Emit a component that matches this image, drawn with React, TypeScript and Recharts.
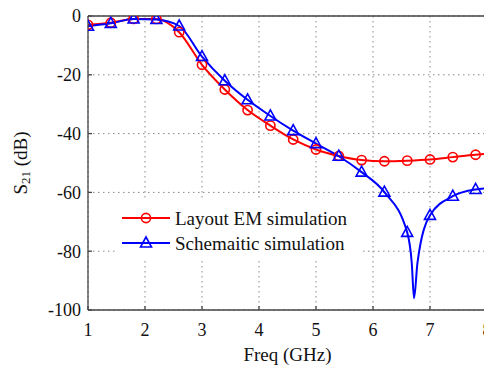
import React from 'react';
import {
  LineChart,
  Line,
  XAxis,
  YAxis,
  CartesianGrid,
  ReferenceLine,
} from 'recharts';

// frequency ticks / y ticks
const freqTicks = [1, 2, 3, 4, 5, 6, 7, 8];
const s21Ticks = [-100, -80, -60, -40, -20, 0];

// where the symbols sit on both curves
const markerFreq = [1.0, 1.4, 1.8, 2.2, 2.6, 3.0, 3.4, 3.8, 4.2, 4.6, 5.0, 5.4, 5.8, 6.2, 6.6, 7.0, 7.4, 7.8];

// Layout EM simulation (red, circles)
const emFreq = [1.0, 1.4, 1.8, 2.2, 2.6, 3.0, 3.4, 3.8, 4.2, 4.6, 5.0, 5.4, 5.8, 6.2, 6.6, 7.0, 7.4, 7.8, 8.0];
const emS21 = [-3, -2.3, -1, -1, -5.5, -16.6, -25, -32, -37.3, -42, -45.4, -47.6, -49, -49.4, -49.2, -48.8, -48, -47.2, -46.9];

// Schematic simulation (blue, triangles)
const schFreq = [1.0, 1.4, 1.8, 2.2, 2.6, 3.0, 3.4, 3.8, 4.2, 4.6, 5.0, 5.4, 5.8, 6.2, 6.6, 6.68, 6.72, 6.78, 7.0, 7.4, 7.8, 8.0];
const schS21 = [-3.5, -2.5, -1, -1.2, -3.4, -13.8, -22, -28.5, -34, -39, -43.4, -47.7, -53.1, -59.9, -73.6, -84, -96, -84, -67.8, -61.3, -59, -58.6];

const seriesNames = ['Layout EM simulation', 'Schemaitic simulation'];

const RED = '#ff0000';
const BLUE = '#0000ff';
const FONT = 'Liberation Serif, Times New Roman, serif';
const txt = { fontFamily: FONT };

const build = (fs: number[], vs: number[]) =>
  fs.map((f, i) => ({ f, v: vs[i], marker: markerFreq.includes(f) }));

const emData = build(emFreq, emS21);
const schData = build(schFreq, schS21);

const Circle = ({ cx, cy, color }: { cx: number; cy: number; color: string }) => (
  <circle cx={cx} cy={cy} r={4.6} fill="none" stroke={color} strokeWidth={1.6} />
);

const Tri = ({ cx, cy, color }: { cx: number; cy: number; color: string }) => (
  <polygon
    points={`${cx},${cy - 6} ${cx - 5.5},${cy + 4} ${cx + 5.5},${cy + 4}`}
    fill="none"
    stroke={color}
    strokeWidth={1.6}
  />
);

const circleDot = (p: any) =>
  p.payload.marker ? <Circle key={p.index} cx={p.cx} cy={p.cy} color={RED} /> : <g key={p.index} />;
const triDot = (p: any) =>
  p.payload.marker ? <Tri key={p.index} cx={p.cx} cy={p.cy} color={BLUE} /> : <g key={p.index} />;

const YLabel = ({ viewBox }: any) => {
  const cx = viewBox.x + 20;
  const cy = viewBox.y + viewBox.height / 2;
  return (
    <text
      x={cx}
      y={cy}
      transform={`rotate(-90 ${cx} ${cy})`}
      textAnchor="middle"
      dominantBaseline="central"
      style={txt}
      fontSize={19}
      fill="#111"
    >
      S<tspan fontSize={13} dy={5}>21</tspan>
      <tspan dy={-5}> (dB)</tspan>
    </text>
  );
};

const XLabel = ({ viewBox }: any) => (
  <text
    x={viewBox.x + viewBox.width / 2}
    y={viewBox.y + 51}
    textAnchor="middle"
    style={txt}
    fontSize={19}
    fill="#111"
  >
    Freq (GHz)
  </text>
);

const LegendBox = () => (
  <div style={{ position: 'absolute', left: 115, top: 200, width: 247, height: 58, background: '#fff' }}>
    <svg width={247} height={58}>
      {seriesNames.map((name, i) => {
        const y = 18 + i * 25;
        const color = i === 0 ? RED : BLUE;
        return (
          <g key={name}>
            <line x1={7} x2={55} y1={y} y2={y} stroke={color} strokeWidth={2} />
            {i === 0 ? <Circle cx={31} cy={y} color={color} /> : <Tri cx={31} cy={y} color={color} />}
            <text x={60} y={y + 7} style={txt} fontSize={19} fill="#111">
              {name}
            </text>
          </g>
        );
      })}
    </svg>
  </div>
);

export default function App() {
  return (
    <div style={{ position: 'absolute', left: 0, top: 0, width: 484, height: 365, overflow: 'hidden', background: '#fff', fontFamily: FONT }}>
      <LineChart width={492} height={365} margin={{ top: 16, right: 5, bottom: 10, left: 0 }} style={txt}>
        <CartesianGrid stroke="#888" strokeDasharray="1.5 3.5" strokeWidth={1} />
        <XAxis
          dataKey="f"
          type="number"
          domain={[1, 8]}
          ticks={freqTicks}
          allowDataOverflow
          height={45}
          stroke="#444"
          strokeWidth={1.3}
          tickSize={-4}
          tickMargin={17}
          tick={{ fill: '#111', fontSize: 18, style: txt }}
          label={<XLabel />}
        />
        <YAxis
          dataKey="v"
          type="number"
          domain={[-100, 0]}
          ticks={s21Ticks}
          allowDataOverflow
          width={88}
          stroke="#444"
          strokeWidth={1.3}
          tickSize={-4}
          tickMargin={11}
          tick={{ fill: '#111', fontSize: 18, style: txt }}
          label={<YLabel />}
        />
        <ReferenceLine y={0} stroke="#444" strokeWidth={1.3} />
        <ReferenceLine x={8} stroke="#444" strokeWidth={1.3} />
        <Line
          data={emData}
          dataKey="v"
          type="monotone"
          stroke={RED}
          strokeWidth={2}
          dot={circleDot}
          activeDot={false}
          isAnimationActive={false}
        />
        <Line
          data={schData}
          dataKey="v"
          type="monotone"
          stroke={BLUE}
          strokeWidth={2}
          dot={triDot}
          activeDot={false}
          isAnimationActive={false}
        />
      </LineChart>
      <LegendBox />
    </div>
  );
}
